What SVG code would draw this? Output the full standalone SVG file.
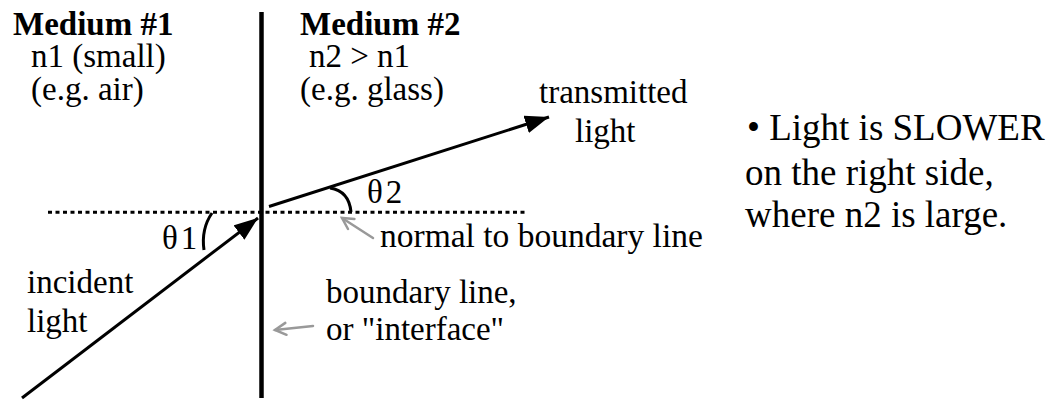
<svg xmlns="http://www.w3.org/2000/svg" width="1047" height="402" viewBox="0 0 1047 402">
<style>
text{font-family:"Liberation Serif","Times New Roman",serif;font-size:33px;fill:#000}
.b{font-weight:bold}
.big{font-size:37px}
.ray{stroke:#000;stroke-width:3;fill:none}
.gray{stroke:#999;stroke-width:2.5;fill:none;stroke-linecap:round}
</style>
<defs>
<marker id="ah" markerUnits="userSpaceOnUse" markerWidth="26" markerHeight="20" refX="24" refY="9" orient="auto">
<path d="M0,0 L24,9 L0,18 Z" fill="#000"/>
</marker>
<marker id="ga" markerUnits="userSpaceOnUse" markerWidth="16" markerHeight="16" refX="13" refY="8" orient="auto">
<path d="M2,2 L13,8 L2,14" fill="none" stroke="#999" stroke-width="2.5" stroke-linecap="round"/>
</marker>
</defs>
<g id="connectors">
<line id="boundary" x1="261.5" y1="12" x2="261.5" y2="398" stroke="#000" stroke-width="4.5"/>
<line id="normal" x1="48" y1="212.3" x2="525" y2="212.3" stroke="#000" stroke-width="3" stroke-dasharray="4,3.5"/>
<line id="incident" class="ray" x1="22" y1="398" x2="258" y2="218" marker-end="url(#ah)"/>
<line id="transmitted" class="ray" x1="269" y1="206.5" x2="549" y2="117" marker-end="url(#ah)"/>
<path id="arc1" class="ray" d="M212,213 Q201,229 204,250"/>
<path id="arc2" class="ray" d="M330,188 Q349,191 351,212"/>
<line id="normalPointer" class="gray" x1="373" y1="238" x2="342" y2="218" marker-end="url(#ga)"/>
<line id="boundaryPointer" class="gray" x1="313" y1="326" x2="275" y2="330" marker-end="url(#ga)"/>
</g>
<g id="medium1">
<text class="b" x="13" y="35">Medium #1</text>
<text x="31" y="67">n1 (small)</text>
<text x="31" y="100">(e.g. air)</text>
</g>
<g id="medium2">
<text class="b" x="300" y="35">Medium #2</text>
<text x="309" y="67">n2 &gt; n1</text>
<text x="300" y="100">(e.g. glass)</text>
</g>
<g id="transmittedLabel">
<text x="539" y="103">transmitted</text>
<text x="575" y="142">light</text>
</g>
<g id="theta1"><text x="162" y="249">θ<tspan dx="3">1</tspan></text></g>
<g id="theta2"><text x="367" y="203">θ<tspan dx="3">2</tspan></text></g>
<g id="normalLabel"><text x="380" y="247" style="font-size:33.5px">normal to boundary line</text></g>
<g id="incidentLabel">
<text x="27" y="293">incident</text>
<text x="27" y="332">light</text>
</g>
<g id="boundaryLabel">
<text x="326" y="303">boundary line,</text>
<text x="326" y="340">or "interface"</text>
</g>
<g id="note">
<text class="big" x="747" y="140">• Light is SLOWER</text>
<text class="big" x="745" y="185">on the right side,</text>
<text class="big" x="745" y="227">where n2 is large.</text>
</g>
</svg>
